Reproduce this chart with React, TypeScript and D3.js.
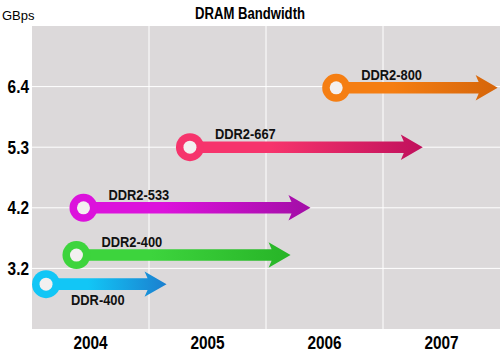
import React from "react";
import * as d3 from "d3";

const W = 500;
const H = 352;

const years = [2004, 2005, 2006, 2007];
const yTickLabels = ["3.2", "4.2", "5.3", "6.4"];
const yTickLevels = [1, 2, 3, 4];

const seriesNames = ["DDR-400", "DDR2-400", "DDR2-533", "DDR2-667", "DDR2-800"];
const seriesStart = [2004.12, 2004.38, 2004.44, 2005.35, 2006.6];
const seriesEnd = [2005.15, 2006.21, 2006.38, 2007.34, 2007.98];
const seriesLevel = [0.74, 1.22, 2.0, 3.0, 3.98];
const seriesLight = ["#12c6f6", "#3dd43d", "#dc12dc", "#f6346c", "#f57e12"];
const seriesDark = ["#1b7fcf", "#27b427", "#a20ea6", "#c0105c", "#d5650a"];
const labelBelow = [true, false, false, false, false];

const FONT = "'Liberation Sans', Arial, sans-serif";

function NText(props: { x: number; y: number; sx: number; size: number; anchor?: string; bold?: boolean; fill?: string; children: React.ReactNode }) {
  const { x, y, sx, size, anchor = "start", bold = true, fill = "#000", children } = props;
  return (
    <text transform={`translate(${x},${y}) scale(${sx},1)`} textAnchor={anchor} fontFamily={FONT}
      fontWeight={bold ? "bold" : "normal"} fontSize={size} fill={fill}>{children}</text>
  );
}

export default function App() {
  const left = 32, right = 500, top = 26, bottom = 329;
  const x = d3.scaleLinear().domain([2004, 2008]).range([left, right]);
  const y = d3.scaleLinear().domain([0, 5]).range([bottom, top]);

  const rOuter = 14, rInner = 6.5, shaftHalf = 5.8, headHalf = 12.7, headLen = 22;

  return (
    <svg width={W} height={H} style={{ position: "absolute", left: 0, top: 0, background: "#fff" }}>
      <defs>
        {seriesNames.map((n, i) => (
          <linearGradient key={n} id={`g${i}`} gradientUnits="userSpaceOnUse"
            x1={x(seriesStart[i])} x2={x(seriesEnd[i])} y1={0} y2={0}>
            <stop offset="0" stopColor={seriesLight[i]} />
            <stop offset="0.35" stopColor={seriesLight[i]} />
            <stop offset="1" stopColor={seriesDark[i]} />
          </linearGradient>
        ))}
      </defs>
      <NText x={250} y={19} sx={0.82} size={16} anchor="middle">DRAM Bandwidth</NText>
      <text x={2} y={20} fontFamily={FONT} fontSize={13} fill="#000">GBps</text>
      <rect x={left} y={top} width={right - left} height={bottom - top} fill="#dcd9da" />
      {years.slice(1).map((yr) => (
        <line key={yr} x1={x(yr)} x2={x(yr)} y1={top} y2={bottom} stroke="#fff" strokeWidth={1} />
      ))}
      {yTickLevels.map((lv) => (
        <line key={lv} x1={left} x2={right} y1={y(lv)} y2={y(lv)} stroke="#fff" strokeWidth={1} />
      ))}
      {yTickLevels.map((lv, i) => (
        <NText key={lv} x={29} y={y(lv) + 6.5} sx={0.81} size={19} anchor="end">{yTickLabels[i]}</NText>
      ))}
      {years.map((yr) => (
        <NText key={yr} x={x(yr + 0.5)} y={349} sx={0.81} size={19} anchor="middle">{yr}</NText>
      ))}
      {seriesNames.map((n, i) => {
        const cx = x(seriesStart[i]);
        const tip = x(seriesEnd[i]);
        const cy = y(seriesLevel[i]);
        const hb = tip - headLen + 3;
        const p = d3.path();
        p.moveTo(cx, cy - shaftHalf);
        p.lineTo(hb, cy - shaftHalf);
        p.lineTo(hb - 3, cy - headHalf);
        p.lineTo(tip, cy);
        p.lineTo(hb - 3, cy + headHalf);
        p.lineTo(hb, cy + shaftHalf);
        p.lineTo(cx, cy + shaftHalf);
        p.closePath();
        return (
          <g key={n}>
            <path d={p.toString()} fill={`url(#g${i})`} />
            <circle cx={cx} cy={cy} r={rOuter} fill={seriesLight[i]} />
            <circle cx={cx} cy={cy} r={rInner} fill="#f3f0f0" />
            <NText x={cx + 25} y={labelBelow[i] ? cy + 21 : cy - 8} sx={0.92} size={14} fill="#111">{n}</NText>
          </g>
        );
      })}
    </svg>
  );
}
